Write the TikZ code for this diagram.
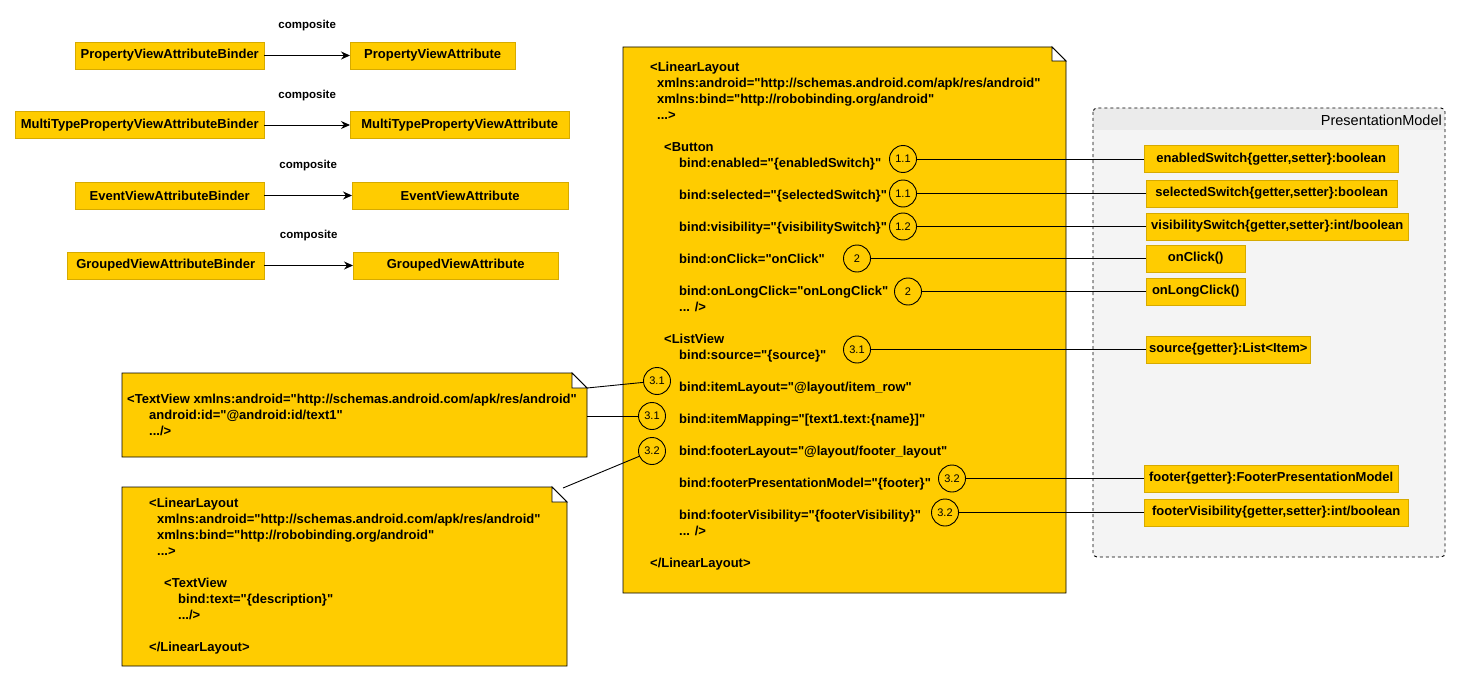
\documentclass[tikz,border=0pt]{standalone}
\usepackage{fontspec}
\setmainfont{Liberation Sans}[Ligatures = TeXOff]
\usetikzlibrary{arrows.meta, calc, positioning}

\definecolor{noteyellow}{HTML}{FFCC00}
\definecolor{boxedge}{HTML}{D6AA00}
\definecolor{pmfill}{HTML}{F4F4F4}
\definecolor{pmhead}{HTML}{EBEBEB}

% note with a folded corner, drawn over an empty named node
\newcommand{\drawnote}[2]{%
    \filldraw[notebody]
        (#1.north west) -- ($(#1.north east)+(-#2,0)$)
        -- ($(#1.north east)+(0,#2)$)
        -- (#1.south east) -- (#1.south west) -- cycle;
    \filldraw[notefold]
        ($(#1.north east)+(-#2,0)$) -- ++(0,#2) -- ++(#2,0) -- cycle;}

\begin{document}
\begin{tikzpicture}[x = 1pt, y = -1pt,
    every text node part/.style = {align = left},
    codetext/.style = {anchor = north west, inner sep = 0pt, font = \bfseries\fontsize{13}{16}\selectfont},
    yellowbox/.style = {anchor = west, draw = boxedge, fill = noteyellow, minimum height = 27pt,
        inner xsep = 3pt, font = \bfseries\fontsize{13}{16}\selectfont},
    callout/.style = {circle, draw, fill = noteyellow, line width = 0.9pt, minimum size = 27pt,
        inner sep = 0pt, font = \fontsize{11}{13}\selectfont},
    notearea/.style = {anchor = north west, inner sep = 0pt, outer sep = 0pt},
    notebody/.style = {fill = noteyellow, draw = black, line width = 0.9pt},
    notefold/.style = {fill = white, draw = black, line width = 0.9pt},
    link/.style = {draw, line width = 0.9pt},
    compose/.style = {link, -{Stealth[length = 9pt, width = 8pt, inset = 3pt]}},
    tag/.style = {font = \bfseries\fontsize{11.5}{13}\selectfont}]
    \useasboundingbox (0, 0) rectangle (1461, 682);

    % binders and their attributes
    \node[yellowbox, minimum width = 189pt] (pvab) at (75, 55.5) {PropertyViewAttributeBinder};
    \node[yellowbox, minimum width = 165pt] (pva) at (350, 55.5) {PropertyViewAttribute};
    \node[yellowbox, minimum width = 249pt] (mtab) at (15, 125) {MultiTypePropertyViewAttributeBinder};
    \node[yellowbox, minimum width = 219pt] (mta) at (350, 125) {MultiTypePropertyViewAttribute};
    \node[yellowbox, minimum width = 189pt] (evab) at (75, 195.5) {EventViewAttributeBinder};
    \node[yellowbox, minimum width = 216pt] (eva) at (352, 195.5) {EventViewAttribute};
    \node[yellowbox, minimum width = 197pt] (gvab) at (67, 265.5) {GroupedViewAttributeBinder};
    \node[yellowbox, minimum width = 205pt] (gva) at (353, 265.5) {GroupedViewAttribute};
    \draw[compose] (pvab) -- (pva) node[tag, midway, yshift = 29.5pt] (comp1) {composite};
    \draw[compose] (mtab) -- (mta) node[tag, midway, yshift = 29.5pt] (comp2) {composite};
    \draw[compose] (evab) -- (eva) node[tag, midway, yshift = 29.5pt] (comp3) {composite};
    \draw[compose] (gvab) -- (gva) node[tag, midway, yshift = 29.5pt] (comp4) {composite};

    % presentation model
    \node[notearea, minimum width = 352pt, minimum height = 449pt] (pm) at (1093, 108) {};
    \fill[pmfill, rounded corners = 4pt] (pm.north west) rectangle (pm.south east);
    \begin{scope}
        \clip[rounded corners = 4pt] (pm.north west) rectangle (pm.south east);
        \fill[pmhead] (pm.north west) rectangle ($(pm.north east)+(0, 22)$);
    \end{scope}
    \draw[dashed, rounded corners = 4pt, line width = 0.9pt] (pm.north west) rectangle (pm.south east);
    \node[anchor = east, inner sep = 0pt, font = \fontsize{14.5}{16}\selectfont] (pmtitle)
        at ($(pm.north east)+(-3, 12)$) {PresentationModel};

    % main layout file
    \node[notearea, minimum width = 443pt, minimum height = 546pt] (layout) at (623, 47) {};
    \drawnote{layout}{14}
    \node[codetext] (layoutcode) at (650, 62.3) {
            <LinearLayout\\
            \hspace*{7pt}xmlns:android="http://schemas.android.com/apk/res/android"\\
            \hspace*{7pt}xmlns:bind="http://robobinding.org/android"\\
            \hspace*{7pt}...>\\[16pt]
            \hspace*{14pt}<Button\\
            \hspace*{29pt}bind:enabled="\{enabledSwitch\}"\\[16pt]
            \hspace*{29pt}bind:selected="\{selectedSwitch\}"\\[16pt]
            \hspace*{29pt}bind:visibility="\{visibilitySwitch\}"\\[16pt]
            \hspace*{29pt}bind:onClick="onClick"\\[16pt]
            \hspace*{29pt}bind:onLongClick="onLongClick"\\
            \hspace*{29pt}... />\\[16pt]
            \hspace*{14pt}<ListView\\
            \hspace*{29pt}bind:source="\{source\}"\\[16pt]
            \hspace*{29pt}bind:itemLayout="@layout/item\_row"\\[16pt]
            \hspace*{29pt}bind:itemMapping="[text1.text:\{name\}]"\\[16pt]
            \hspace*{29pt}bind:footerLayout="@layout/footer\_layout"\\[16pt]
            \hspace*{29pt}bind:footerPresentationModel="\{footer\}"\\[16pt]
            \hspace*{29pt}bind:footerVisibility="\{footerVisibility\}"\\
            \hspace*{29pt}... />\\[16pt]
            </LinearLayout>
        };

    % item row layout
    \node[notearea, minimum width = 465pt, minimum height = 84pt] (textview) at (122, 373) {};
    \drawnote{textview}{15}
    \node[codetext] (textviewcode) at (127, 394.3) {
            <TextView xmlns:android="http://schemas.android.com/apk/res/android"\\
            \hspace*{22pt}android:id="@android:id/text1"\\
            \hspace*{22pt}.../>
        };

    % footer layout
    \node[notearea, minimum width = 445pt, minimum height = 179pt] (footer) at (122, 487) {};
    \drawnote{footer}{15}
    \node[codetext] (footercode) at (149, 498.3) {
            <LinearLayout\\
            \hspace*{8pt}xmlns:android="http://schemas.android.com/apk/res/android"\\
            \hspace*{8pt}xmlns:bind="http://robobinding.org/android"\\
            \hspace*{8pt}...>\\[16pt]
            \hspace*{15pt}<TextView\\
            \hspace*{29pt}bind:text="\{description\}"\\
            \hspace*{29pt}.../>\\[16pt]
            </LinearLayout>
        };

    % presentation model members
    \node[yellowbox, minimum width = 254pt] (enabled) at (1144, 159) {enabledSwitch\{getter,setter\}:boolean};
    \node[yellowbox, minimum width = 251pt] (selected) at (1146, 193.5) {selectedSwitch\{getter,setter\}:boolean};
    \node[yellowbox, minimum width = 262pt] (visibility) at (1146, 226.5) {visibilitySwitch\{getter,setter\}:int/boolean};
    \node[yellowbox, minimum width = 99pt] (onclick) at (1146, 258.5) {onClick()};
    \node[yellowbox, minimum width = 99pt] (onlongclick) at (1146, 291.5) {onLongClick()};
    \node[yellowbox, minimum width = 162pt] (source) at (1146, 349.5) {source\{getter\}:List<Item>};
    \node[yellowbox, minimum width = 254pt] (footerpm) at (1144, 478.5) {footer\{getter\}:FooterPresentationModel};
    \node[yellowbox, minimum width = 264pt] (footervis) at (1144, 512.5) {footerVisibility\{getter,setter\}:int/boolean};

    % numbered callouts
    \node[callout] (c11a) at (903, 159) {1.1};
    \node[callout] (c11b) at (903, 193.5) {1.1};
    \node[callout] (c12) at (903, 226.5) {1.2};
    \node[callout] (c2a) at (857, 258.5) {2};
    \node[callout] (c2b) at (908, 291.5) {2};
    \node[callout] (c31a) at (857, 349.5) {3.1};
    \node[callout] (c31b) at (657, 381) {3.1};
    \node[callout] (c31c) at (652, 416) {3.1};
    \node[callout] (c32a) at (652, 451) {3.2};
    \node[callout] (c32b) at (952, 478.5) {3.2};
    \node[callout] (c32c) at (945, 512.5) {3.2};

    \draw[link] (c11a) -- (enabled);
    \draw[link] (c11b) -- (selected);
    \draw[link] (c12) -- (visibility);
    \draw[link] (c2a) -- (onclick);
    \draw[link] (c2b) -- (onlongclick);
    \draw[link] (c31a) -- (source);
    \draw[link] (c32b) -- (footerpm);
    \draw[link] (c32c) -- (footervis);

    \coordinate (textviewear) at ($(textview.north east)+(0, 15)$);
    \coordinate (footerear) at ($(footer.north east)+(-4, 1)$);
    \draw[link] (textviewear) -- (c31b);
    \draw[link] (textview.east |- c31c) -- (c31c);
    \draw[link] (footerear) -- (c32a);
\end{tikzpicture}
\end{document}
